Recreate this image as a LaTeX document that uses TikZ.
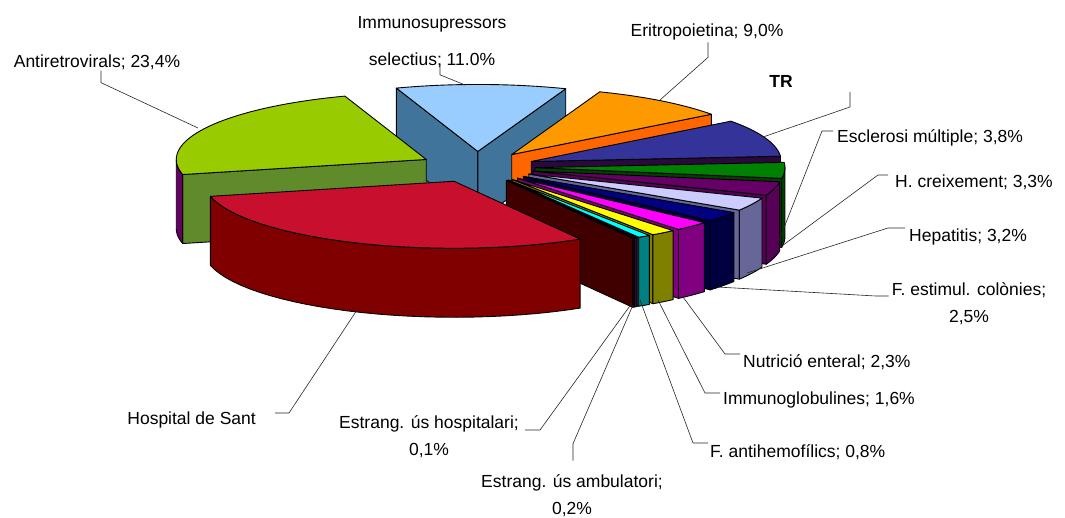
\documentclass[tikz,border=0pt]{standalone}
\usepackage{fontspec}
\setmainfont{Liberation Sans}

% pie geometry (px): centre, radii, depth, explosion
\def\pieCX{477}
\def\pieCY{167}
\def\pieA{250}
\def\pieB{67}
\def\pieH{69}
\def\pieExp{58}

\definecolor{antiTop}{HTML}{99CC00}\definecolor{antiFace}{HTML}{5F8B2B}\definecolor{antiWall}{HTML}{660066}
\definecolor{immTop}{HTML}{99CCFF}\definecolor{immFace}{HTML}{41749A}
\definecolor{eriTop}{HTML}{FF9900}\definecolor{eriFace}{HTML}{FF6600}
\definecolor{trTop}{HTML}{333399}\definecolor{trFace}{HTML}{2A0A3C}
\definecolor{escTop}{HTML}{008000}\definecolor{escFace}{HTML}{004000}
\definecolor{hcrTop}{HTML}{660066}\definecolor{hcrFace}{HTML}{560056}
\definecolor{hepTop}{HTML}{CCCCFF}\definecolor{hepFace}{HTML}{666699}
\definecolor{festTop}{HTML}{000080}\definecolor{festFace}{HTML}{000040}
\definecolor{nutTop}{HTML}{FF00FF}\definecolor{nutFace}{HTML}{800080}
\definecolor{immgTop}{HTML}{FFFF00}\definecolor{immgFace}{HTML}{808000}
\definecolor{fantTop}{HTML}{00FFFF}\definecolor{fantFace}{HTML}{008080}
\definecolor{ambTop}{HTML}{800080}\definecolor{ambFace}{HTML}{400040}
\definecolor{hosTop}{HTML}{800000}\definecolor{hosFace}{HTML}{400000}
\definecolor{santTop}{HTML}{C8102E}\definecolor{santFace}{HTML}{800000}

% #1 start angle, #2 end angle, #3 top, #4 cut face, #5 outer wall
\newcommand{\pieslice}[5]{%
  \pgfmathsetmacro\pmid{(#1+#2)/2}
  \pgfmathsetmacro\pax{\pieCX+\pieExp*cos(\pmid)}
  \pgfmathsetmacro\pay{\pieCY+\pieExp*\pieB/\pieA*sin(\pmid)}
  \pgfmathsetmacro\psx{\pax+\pieA*cos(#1)}
  \pgfmathsetmacro\psy{\pay+\pieB*sin(#1)}
  \pgfmathsetmacro\pex{\pax+\pieA*cos(#2)}
  \pgfmathsetmacro\pey{\pay+\pieB*sin(#2)}
  \pgfmathtruncatemacro\pvis{cos(#1)<0}
  \ifnum\pvis=1
    \filldraw[slice,fill=#4] (\pax,\pay) -- (\psx,\psy) -- ++(0,\pieH) -- (\pax,\pay+\pieH) -- cycle;
  \fi
  \pgfmathtruncatemacro\pvis{cos(#2)>0}
  \ifnum\pvis=1
    \filldraw[slice,fill=#4] (\pax,\pay) -- (\pex,\pey) -- ++(0,\pieH) -- (\pax,\pay+\pieH) -- cycle;
  \fi
  \pgfmathsetmacro\wlo{max(#1,0)}
  \pgfmathsetmacro\whi{min(#2,180)}
  \pgfmathtruncatemacro\pvis{\whi>\wlo}
  \ifnum\pvis=1
    \filldraw[slice,fill=#5]
      plot[domain=\wlo:\whi,samples=30,variable=\t] ({\pax+\pieA*cos(\t)},{\pay+\pieB*sin(\t)})
      -- plot[domain=\whi:\wlo,samples=30,variable=\t] ({\pax+\pieA*cos(\t)},{\pay+\pieH+\pieB*sin(\t)}) -- cycle;
  \fi
  \filldraw[slice,fill=#3] (\pax,\pay)
    -- plot[domain=#1:#2,samples=40,variable=\t] ({\pax+\pieA*cos(\t)},{\pay+\pieB*sin(\t)}) -- cycle;
}

\tikzset{
  slice/.style={draw=black, line width=0.9pt, line join=round},
  lbl/.style={font=\fontsize{17.5}{27}\selectfont, inner sep=0pt, align=center},
  leader/.style={draw=black!85, line width=0.6pt}
}

\begin{document}
\begin{tikzpicture}[x=1pt,y=-1pt]
  \fill[white] (0,0) rectangle (1065,518);
  \useasboundingbox (0,0) rectangle (1065,518);

  % back slices
  \pieslice{-109}{-69.4}{immTop}{immFace}{immFace}
  \pieslice{-69.4}{-37}{eriTop}{eriFace}{eriFace}
  \pieslice{-37}{-4.5}{trTop}{trFace}{trFace}
  % small slices, back to front
  \pieslice{-4.5}{9.2}{escTop}{escFace}{escFace}
  \pieslice{9.2}{21.1}{hcrTop}{hcrFace}{hcrFace}
  \pieslice{21.1}{32.6}{hepTop}{hepFace}{hepFace}
  \pieslice{32.6}{41.6}{festTop}{festFace}{festFace}
  \pieslice{41.6}{49.9}{nutTop}{nutFace}{nutFace}
  \pieslice{49.9}{55.7}{immgTop}{immgFace}{immgFace}
  \pieslice{55.7}{58.6}{fantTop}{fantFace}{fantFace}
  \pieslice{58.6}{59.3}{ambTop}{ambFace}{ambFace}
  \pieslice{59.3}{59.7}{hosTop}{hosFace}{hosFace}
  % big slices in front
  \pieslice{167}{251}{antiTop}{antiFace}{antiWall}
  \pieslice{59.7}{167}{santTop}{santFace}{santFace}

  % leader ends on the pie
  \coordinate (antiP) at (198,128);
  \coordinate (immP) at (465,85);
  \coordinate (eriP) at (660,100);
  \coordinate (trA) at (850,92);
  \coordinate (trP) at (763,137);
  \coordinate (escP) at (778,243);
  \coordinate (hcrP) at (763,260);
  \coordinate (hepP) at (747,273);
  \coordinate (festP) at (717,287);
  \coordinate (nutP) at (683,297);
  \coordinate (immgP) at (658,300);
  \coordinate (fantP) at (640,300);
  \coordinate (ambP) at (633,305);
  \coordinate (hosP) at (632,303);
  \coordinate (santP) at (357,310);

  % labels
  \node[lbl] (antiL) at (97,62) {Antiretrovirals; 23,4\%};
  \node[lbl] (immL) at (432,42) {Immunosupressors\\[10pt]selectius; 11.0\%};
  \node[lbl] (eriL) at (707,32) {Eritropoietina; 9,0\%};
  \node[lbl,font=\fontsize{17.5}{27}\selectfont\bfseries] (trL) at (781,81) {TR};
  \node[lbl,anchor=west] (escL) at (837,138) {Esclerosi múltiple; 3,8\%};
  \node[lbl,anchor=west] (hcrL) at (895,182) {H. creixement; 3,3\%};
  \node[lbl,anchor=west] (hepL) at (909,237) {Hepatitis; 3,2\%};
  \node[lbl] (festL) at (969,304) {F. estimul. colònies;\\2,5\%};
  \node[lbl,anchor=west] (nutL) at (743,362) {Nutrició enteral; 2,3\%};
  \node[lbl,anchor=west] (immgL) at (723,400) {Immunoglobulines; 1,6\%};
  \node[lbl,anchor=west] (fantL) at (710,452) {F. antihemofílics; 0,8\%};
  \node[lbl,anchor=east] (santL) at (256,420) {Hospital de Sant};
  \node[lbl] (hosL) at (429,437) {Estrang. ús hospitalari;\\0,1\%};
  \node[lbl] (ambL) at (572,496) {Estrang. ús ambulatori;\\0,2\%};

  % leaders
  \draw[leader] (antiL.south) ++(4,1) -- ++(0,12) -- (antiP);
  \draw[leader] (immL.south) ++(8,-4) -- ++(0,11) -- (immP);
  \draw[leader] (eriL.south) ++(1,2) -- ++(0,15) -- (eriP);
  \draw[leader] (trA) -- ++(0,15) -- (trP);
  \draw[leader] (escL.west) ++(-4,-7) -- ++(-11,0) -- (escP);
  \draw[leader] (hcrL.west) ++(-7,-7) -- ++(-10,0) -- (hcrP);
  \draw[leader] (hepL.west) ++(-4,-9) -- ++(-17,0) -- (hepP);
  \draw[leader] (festL.west) ++(-3,-8) -- ++(-13,0) -- (festP);
  \draw[leader] (nutL.west) ++(-3,-8) -- ++(-15,0) -- (nutP);
  \draw[leader] (immgL.west) ++(-3,-7) -- ++(-15,0) -- (immgP);
  \draw[leader] (fantL.west) ++(-2,-9) -- ++(-15,0) -- (fantP);
  \draw[leader] (santL.east) ++(19,-7) -- ++(14,0) -- (santP);
  \draw[leader] (hosL.east) ++(6,-7) -- ++(15,0) -- (hosP);
  \draw[leader] (ambL.north) ++(1,-14) -- ++(0,-17) -- (ambP);
\end{tikzpicture}
\end{document}
